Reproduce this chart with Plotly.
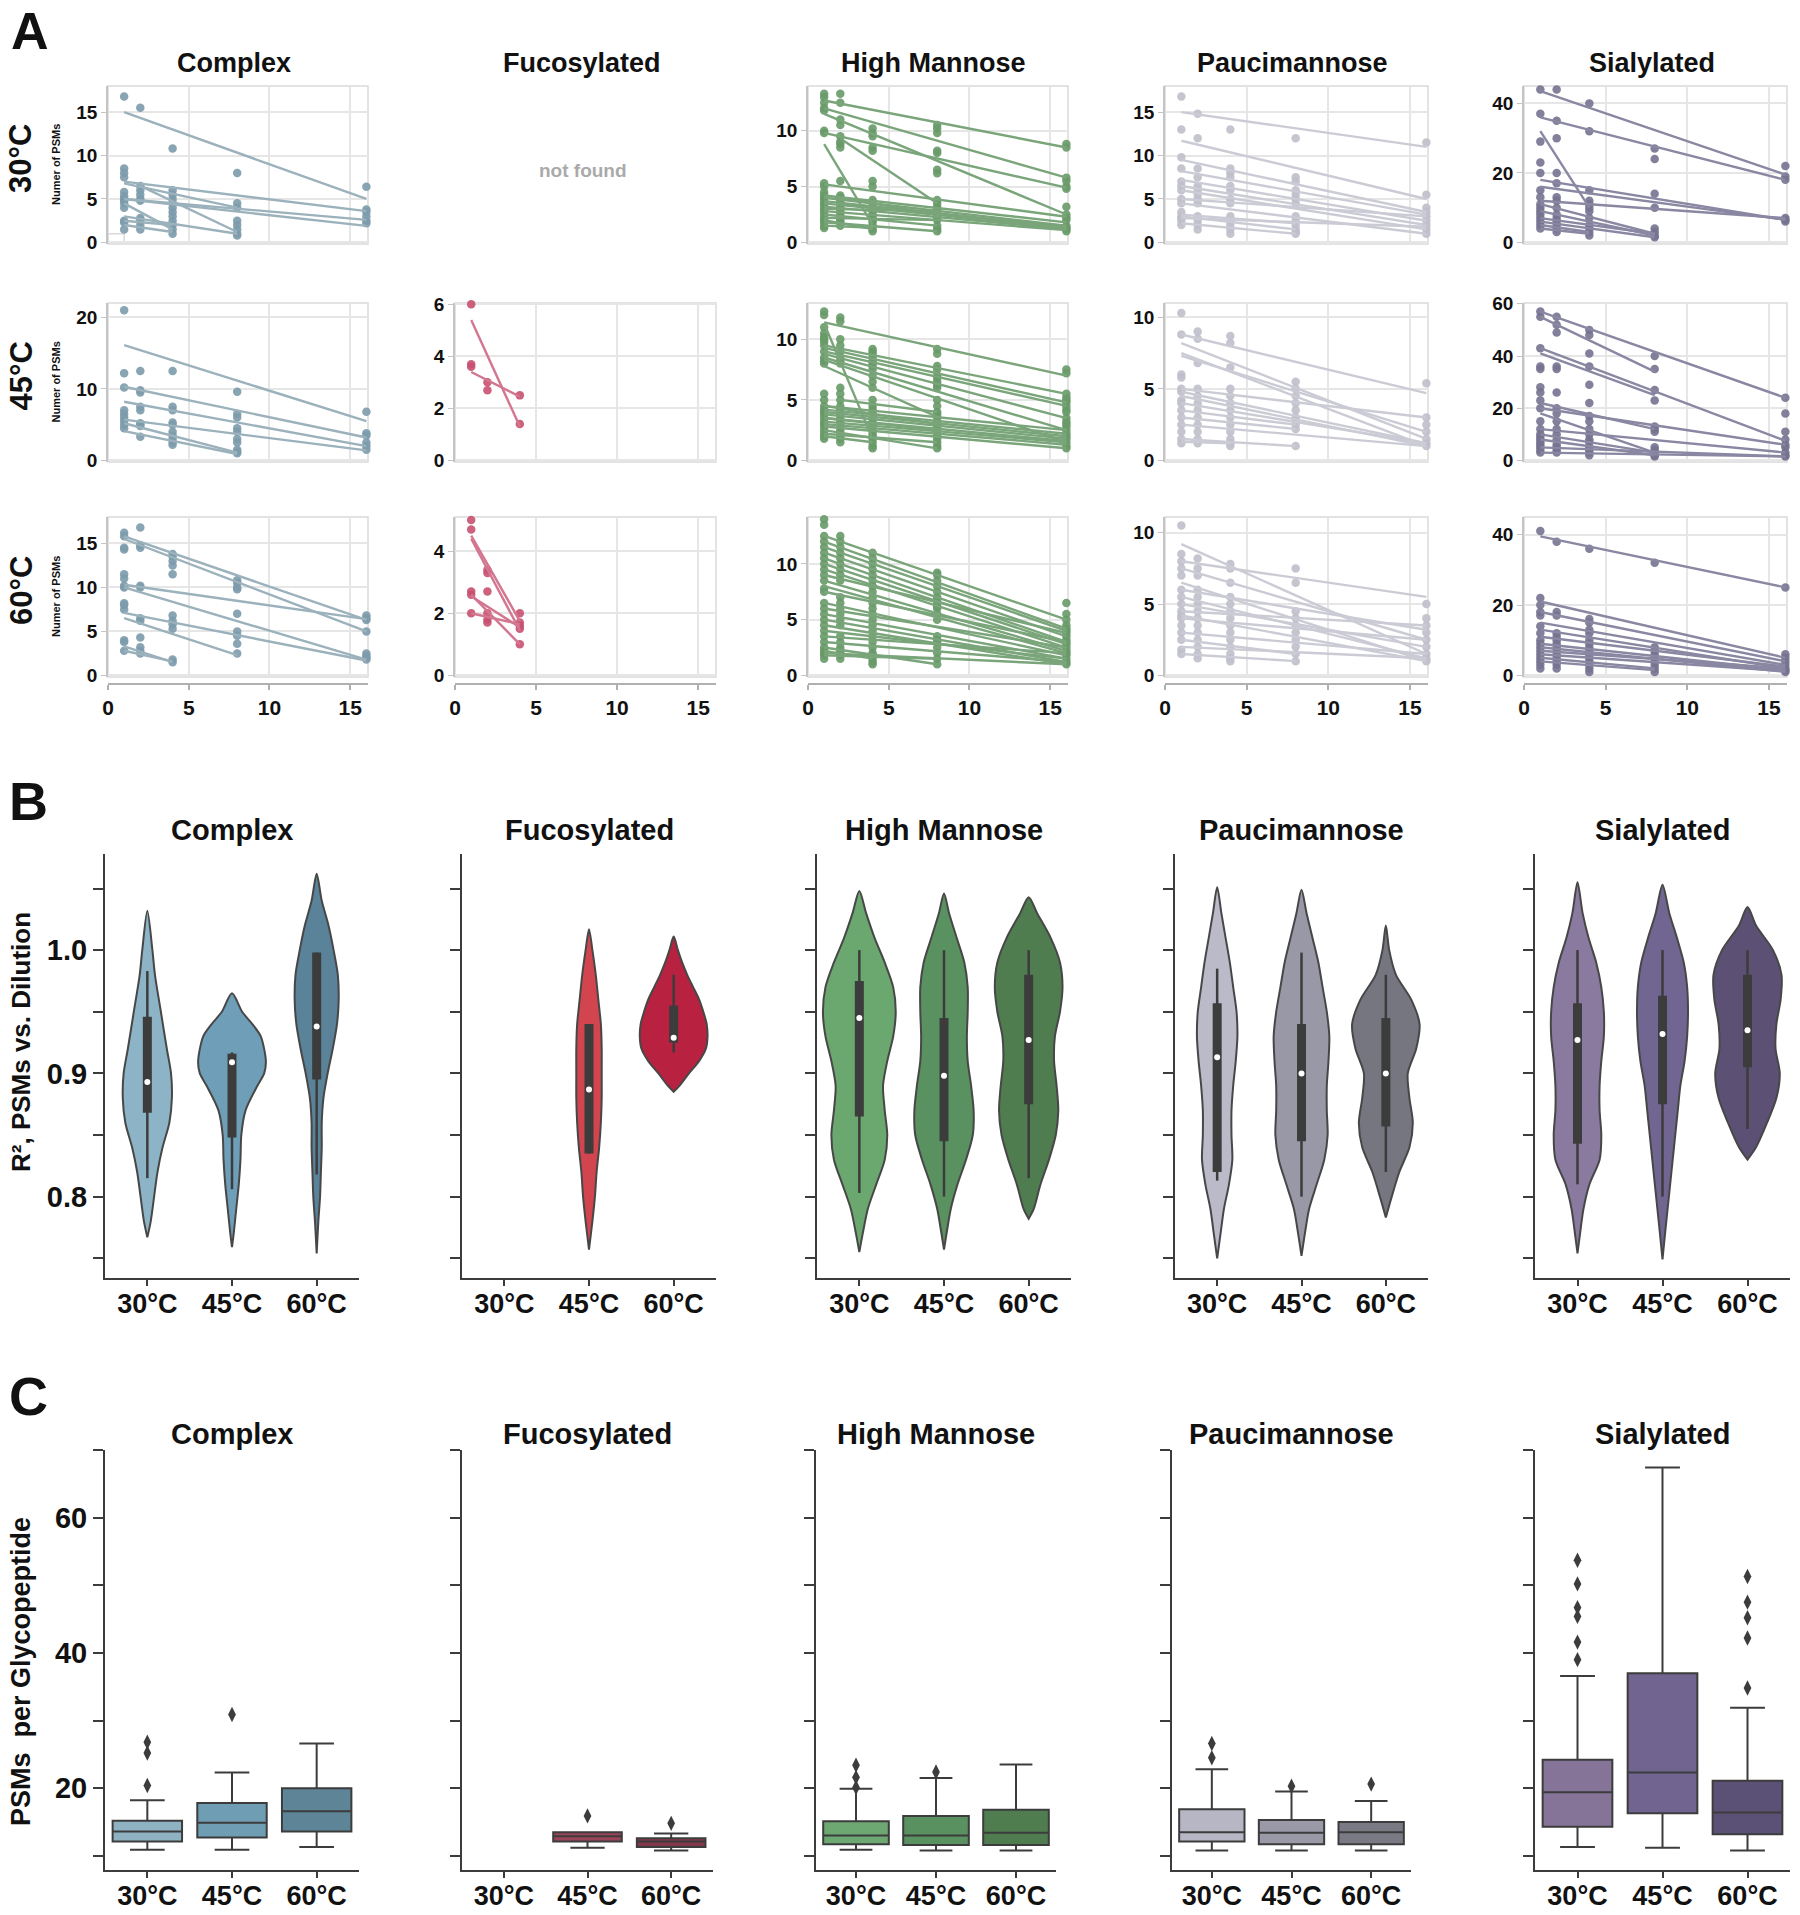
import plotly.graph_objects as go

W, H = 1800, 1915

CATEGORIES = ["Complex", "Fucosylated", "High Mannose", "Paucimannose", "Sialylated"]
TEMPS = ["30°C", "45°C", "60°C"]

# ---------------- panel A: PSMs per dilution (dots) and fitted lines (x0, y0, x1, y1)
complex_30_dots = {1: [16.8, 8.5, 8.0, 7.5, 5.8, 5.3, 5.0, 4.8, 4.5, 4.0, 2.5, 2.3, 1.5],
                   2: [15.5, 6.5, 6.0, 5.5, 5.0, 4.8, 2.8, 2.5, 2.0, 1.5],
                   4: [10.8, 6.0, 5.5, 5.0, 4.5, 4.0, 3.5, 3.0, 2.5, 2.0, 1.5, 1.0],
                   8: [8.0, 4.5, 4.0, 2.5, 2.0, 1.5, 1.0, 0.8],
                   16: [6.4, 3.8, 3.5, 3.0, 2.5, 2.2]}
complex_30_fits = [(1, 15.0, 16, 5.0), (1, 7.0, 16, 3.6), (1, 5.0, 16, 2.6), (1, 5.0, 16, 1.9),
                   (2, 6.5, 8, 1.2), (1, 6.8, 8, 4.0), (1, 4.5, 4, 1.5), (1, 3.0, 8, 1.0),
                   (1, 2.5, 4, 2.0), (1, 2.0, 4, 1.2)]

complex_45_dots = {1: [21.0, 12.2, 10.2, 7.0, 6.5, 6.0, 5.5, 5.0, 4.5],
                   2: [12.5, 9.8, 9.5, 7.5, 7.0, 5.2, 5.0, 4.8, 3.3],
                   4: [12.5, 7.5, 7.0, 5.3, 5.0, 4.0, 3.5, 3.0, 2.5, 2.2],
                   8: [9.6, 6.5, 6.0, 4.5, 4.0, 3.0, 2.5, 1.5, 1.2, 1.0],
                   16: [6.8, 3.8, 3.5, 2.5, 2.0, 1.5]}
complex_45_fits = [(1, 16.1, 16, 5.5), (1, 10.3, 16, 3.2), (1, 8.2, 16, 2.0), (1, 5.7, 16, 1.4),
                   (1, 5.2, 8, 1.1), (1, 4.1, 8, 0.9)]

complex_60_dots = {1: [16.2, 15.8, 14.5, 14.3, 11.5, 11.0, 10.2, 10.0, 8.2, 8.0, 7.5, 4.0, 3.8, 2.8],
                   2: [16.8, 14.8, 14.5, 10.2, 10.0, 6.5, 6.2, 4.3, 3.2, 2.8, 2.5],
                   4: [13.8, 13.5, 13.0, 12.5, 11.5, 6.8, 6.2, 5.8, 5.3, 1.8, 1.5],
                   8: [10.8, 10.5, 10.0, 9.8, 7.0, 5.0, 4.5, 3.6, 2.5],
                   16: [6.8, 6.5, 6.3, 5.0, 2.5, 2.2, 2.0, 1.8]}
complex_60_fits = [(1, 15.8, 16, 6.3), (1, 15.5, 16, 5.0), (1, 10.3, 16, 6.4), (1, 10.0, 16, 1.8),
                   (1, 7.1, 16, 1.7), (1, 6.5, 8, 2.3), (1, 3.3, 4, 1.5), (1, 2.8, 4, 1.6)]

fuco_45_dots = {1: [6.0, 3.7, 3.6], 2: [3.0, 2.7], 4: [2.5, 1.4]}
fuco_45_fits = [(1, 5.4, 4, 1.3), (1, 3.4, 4, 2.45)]

fuco_60_dots = {1: [5.0, 4.7, 2.7, 2.6, 2.0], 2: [3.4, 3.3, 2.7, 2.0, 1.8, 1.7],
                4: [2.0, 1.7, 1.6, 1.5, 1.0]}
fuco_60_fits = [(1, 4.5, 4, 1.75), (1, 4.4, 4, 1.45), (1, 2.6, 4, 1.0), (1, 2.55, 4, 1.55),
                (1, 2.0, 4, 1.65)]

hm_30_dots = {1: [13.3, 13.0, 12.5, 12.0, 11.8, 10.0, 9.8, 5.3, 5.0, 4.5, 4.2, 4.0, 3.8, 3.5,
                  3.3, 3.0, 2.8, 2.5, 2.2, 2.0, 1.8, 1.5, 1.3],
              2: [13.3, 12.5, 11.0, 10.5, 9.5, 9.0, 8.8, 8.5, 5.5, 4.2, 4.0, 3.8, 3.5, 3.2, 3.0,
                  2.8, 2.5, 2.2, 2.0, 1.8, 1.5],
              4: [10.2, 9.8, 9.5, 8.5, 8.2, 5.5, 5.0, 3.8, 3.5, 3.2, 3.0, 2.8, 2.5, 2.2, 2.0,
                  1.8, 1.5, 1.2, 1.0],
              8: [10.5, 10.2, 9.8, 8.2, 8.0, 6.5, 6.2, 3.8, 3.5, 3.2, 3.0, 2.8, 2.5, 2.2, 2.0,
                  1.5, 1.2, 1.0],
              16: [8.8, 8.5, 5.8, 5.5, 5.0, 4.8, 3.2, 2.5, 2.2, 2.0, 1.5, 1.3, 1.2, 1.0]}
hm_30_fits = [(1, 12.7, 16, 8.5), (1, 12.0, 16, 5.8), (1, 11.5, 16, 2.5), (1, 9.8, 16, 4.9),
              (1, 8.8, 4, 1.6), (2, 9.3, 8, 3.5), (1, 5.2, 16, 2.3), (1, 4.2, 16, 1.8),
              (1, 4.0, 16, 1.5), (1, 3.7, 16, 1.4), (1, 3.5, 16, 1.3), (1, 3.2, 16, 1.2),
              (1, 3.0, 8, 2.8), (1, 2.8, 16, 1.1), (1, 2.5, 8, 1.5), (1, 2.2, 8, 2.0),
              (1, 2.0, 4, 1.2), (1, 1.8, 8, 1.0), (1, 1.5, 4, 1.3), (2, 4.0, 8, 2.5),
              (2, 3.5, 16, 1.3)]

hm_45_dots = {1: [12.3, 12.0, 11.0, 10.5, 10.2, 10.0, 9.8, 9.5, 9.0, 8.5, 8.2, 8.0, 5.5, 5.0,
                  4.5, 4.2, 4.0, 3.8, 3.5, 3.2, 3.0, 2.8, 2.5, 2.2, 2.0, 1.8],
              2: [11.8, 11.5, 10.0, 9.5, 9.0, 8.5, 8.2, 8.0, 6.0, 5.5, 5.0, 4.5, 4.2, 4.0, 3.8,
                  3.5, 3.2, 3.0, 2.8, 2.5, 2.2, 2.0, 1.8, 1.5],
              4: [9.2, 9.0, 8.8, 8.5, 8.2, 8.0, 7.8, 7.5, 7.0, 6.5, 6.0, 5.0, 4.5, 4.2, 4.0,
                  3.5, 3.2, 3.0, 2.8, 2.5, 2.2, 2.0, 1.8, 1.5, 1.2, 1.0],
              8: [9.2, 8.8, 7.8, 7.5, 7.0, 6.8, 6.5, 6.2, 6.0, 5.0, 4.5, 4.0, 3.8, 3.5, 3.2,
                  3.0, 2.8, 2.5, 2.2, 2.0, 1.8, 1.5, 1.2, 1.0],
              16: [7.5, 7.2, 5.5, 5.2, 5.0, 4.8, 4.5, 4.2, 4.0, 3.5, 3.2, 3.0, 2.8, 2.5, 2.2,
                   2.0, 1.8, 1.5, 1.2, 1.0]}
hm_45_fits = [(1, 11.4, 16, 7.0), (1, 11.3, 4, 1.8), (1, 9.5, 16, 5.5), (1, 9.3, 16, 4.8),
              (1, 9.0, 16, 4.5), (1, 8.8, 16, 3.5), (1, 8.5, 16, 2.5), (1, 8.3, 16, 1.5),
              (1, 7.8, 8, 3.6), (1, 4.5, 16, 2.5), (1, 4.2, 16, 2.2), (1, 4.0, 16, 2.0),
              (1, 3.8, 16, 1.8), (1, 3.5, 16, 1.6), (1, 3.2, 16, 1.5), (1, 3.0, 16, 1.3),
              (1, 2.8, 16, 1.0), (1, 2.5, 8, 1.0), (1, 2.2, 8, 1.5), (1, 2.0, 4, 1.5),
              (1, 4.5, 8, 3.0), (1, 3.5, 8, 2.5), (2, 5.0, 8, 4.0)]

hm_60_dots = {1: [14.0, 13.5, 12.5, 12.0, 11.5, 11.0, 10.5, 10.0, 9.5, 9.0, 8.5, 7.8, 7.5, 6.5,
                  6.0, 5.5, 5.0, 4.5, 4.0, 3.5, 3.0, 2.5, 2.2, 2.0, 1.8, 1.5],
              2: [12.5, 12.0, 11.5, 11.0, 10.5, 10.0, 9.5, 9.0, 8.5, 7.0, 6.5, 6.0, 5.5, 5.0,
                  4.5, 3.5, 3.0, 2.5, 2.2, 2.0, 1.8, 1.5],
              4: [11.0, 10.5, 10.0, 9.5, 9.0, 8.5, 8.0, 7.5, 7.0, 6.5, 6.0, 5.5, 5.0, 4.5,
                  4.0, 3.5, 3.0, 2.5, 2.0, 1.8, 1.5, 1.2, 1.0],
              8: [9.2, 9.0, 8.5, 8.0, 7.5, 7.0, 6.8, 6.5, 6.2, 6.0, 5.5, 5.0, 3.5, 3.2, 3.0,
                  2.5, 2.0, 1.5, 1.0],
              16: [6.5, 5.5, 5.0, 4.5, 4.2, 4.0, 3.8, 3.5, 3.2, 3.0, 2.8, 2.5, 2.2, 2.0, 1.8,
                   1.5, 1.2, 1.0]}
hm_60_fits = [(1, 12.5, 16, 5.0), (1, 12.0, 16, 4.2), (1, 11.5, 16, 4.0), (1, 11.0, 16, 3.5),
              (1, 10.5, 16, 3.0), (1, 10.0, 16, 2.8), (1, 9.5, 16, 2.5), (1, 9.0, 16, 3.8),
              (1, 8.5, 16, 2.2), (1, 8.0, 16, 2.0), (1, 7.5, 16, 3.0), (1, 6.5, 16, 1.8),
              (1, 6.0, 16, 2.5), (1, 5.5, 16, 1.5), (1, 5.0, 16, 1.2), (1, 4.5, 16, 1.0),
              (1, 4.0, 16, 1.5), (1, 3.5, 16, 2.0), (1, 3.0, 16, 1.2), (1, 2.5, 8, 1.0),
              (1, 2.2, 4, 1.5), (1, 2.0, 16, 1.0), (1, 1.8, 8, 1.5)]

pauci_30_dots = {1: [16.8, 13.0, 9.8, 8.5, 7.0, 6.5, 6.0, 5.0, 4.5, 3.5, 3.0, 2.8, 2.5, 2.0],
                 2: [14.8, 12.0, 8.5, 7.5, 6.5, 6.0, 5.5, 5.0, 4.5, 3.0, 2.5, 2.0, 1.5],
                 4: [13.0, 8.5, 8.0, 7.5, 6.5, 6.0, 5.0, 4.5, 3.0, 2.5, 2.0, 1.5, 1.0],
                 8: [12.0, 7.5, 7.0, 6.0, 5.5, 5.0, 4.5, 3.0, 2.5, 2.0, 1.5, 1.2, 1.0],
                 16: [11.5, 5.5, 4.0, 3.5, 3.0, 2.5, 2.0, 1.5, 1.0]}
pauci_30_fits = [(1, 15.0, 16, 11.0), (1, 11.7, 16, 5.0), (1, 9.5, 16, 3.5), (1, 8.2, 16, 3.2),
                 (1, 7.2, 16, 2.5), (1, 6.5, 16, 2.0), (1, 6.0, 16, 1.5), (1, 5.0, 16, 3.0),
                 (1, 4.5, 16, 1.0), (1, 3.2, 8, 2.2), (1, 3.0, 8, 1.5), (1, 2.8, 16, 1.8),
                 (1, 2.2, 8, 1.0)]

pauci_45_dots = {1: [10.3, 8.8, 6.0, 5.8, 5.0, 4.8, 4.2, 4.0, 3.5, 3.0, 2.5, 2.0, 1.5, 1.2],
                 2: [9.0, 8.5, 6.8, 5.0, 4.5, 4.0, 3.5, 3.0, 2.5, 2.0, 1.5, 1.2],
                 4: [8.7, 8.2, 6.5, 5.0, 4.5, 4.0, 3.5, 3.0, 2.5, 2.0, 1.5, 1.2, 1.0],
                 8: [5.5, 5.0, 4.5, 4.0, 3.5, 3.0, 2.8, 2.5, 2.2, 1.0],
                 16: [5.4, 3.0, 2.5, 2.0, 1.5, 1.2, 1.0]}
pauci_45_fits = [(1, 8.8, 16, 4.7), (1, 8.2, 16, 1.5), (1, 7.5, 16, 1.0), (1, 7.3, 16, 2.0),
                 (1, 5.0, 16, 3.0), (1, 4.8, 16, 1.2), (1, 4.5, 16, 1.0), (1, 4.0, 16, 1.2),
                 (1, 3.5, 8, 2.5), (1, 3.0, 8, 2.2), (1, 2.5, 16, 1.0), (1, 1.5, 8, 1.0),
                 (1, 1.3, 4, 1.2)]

pauci_60_dots = {1: [10.5, 8.5, 8.0, 7.5, 7.0, 6.0, 5.5, 5.0, 4.5, 4.2, 4.0, 3.5, 3.0, 2.5,
                     1.8, 1.5],
                 2: [8.2, 7.5, 7.0, 6.0, 5.5, 5.0, 4.5, 4.0, 3.5, 3.0, 2.5, 2.0, 1.5, 1.2],
                 4: [7.8, 7.5, 6.5, 5.5, 5.0, 4.5, 4.0, 3.5, 3.0, 2.5, 2.0, 1.5, 1.2, 1.0],
                 8: [7.5, 6.5, 4.5, 4.0, 3.5, 3.0, 2.5, 2.0, 1.5, 1.0],
                 16: [5.0, 4.0, 3.5, 3.0, 2.5, 2.0, 1.5, 1.2, 1.0]}
pauci_60_fits = [(1, 9.2, 16, 1.5), (1, 8.0, 16, 5.5), (1, 7.5, 16, 2.5), (1, 6.5, 16, 1.0),
                 (1, 6.0, 16, 3.2), (1, 5.5, 16, 1.2), (1, 5.0, 16, 2.0), (1, 4.5, 16, 3.5),
                 (1, 4.2, 16, 1.0), (1, 4.0, 16, 2.5), (1, 3.0, 16, 1.5), (1, 2.5, 8, 1.5),
                 (1, 2.0, 16, 1.2), (1, 1.5, 8, 1.0)]

sial_30_dots = {1: [44, 37, 29, 23, 20, 15, 13, 11, 10, 9, 8, 7, 6, 5, 4],
                2: [44, 35, 30, 20, 17, 13, 12, 10, 8, 7, 6, 5, 4, 3],
                4: [40, 32, 15, 12, 11, 10, 9, 7, 5, 4, 3, 2],
                8: [27, 24, 14, 10, 4, 3, 2, 1.5],
                16: [22, 19, 18, 7, 6.5, 6]}
sial_30_fits = [(1, 43.5, 16, 19.5), (1, 36, 16, 18), (1, 32, 4, 10), (1, 18, 16, 6.5),
                (1, 16, 16, 6.5), (1, 12, 16, 7), (1, 11, 8, 2.5), (1, 9, 8, 2),
                (1, 7, 8, 2.5), (1, 6, 8, 1.5), (1, 5, 4, 3), (1, 4, 4, 2.5)]

sial_45_dots = {1: [57, 55, 43, 36, 35, 28, 26, 23, 20, 15, 12, 10, 9, 8, 7, 6, 5, 4, 3],
                2: [55, 52, 49, 36, 35, 26, 20, 18, 15, 12, 10, 8, 6, 5, 4, 3],
                4: [50, 48, 41, 36, 29, 22, 17, 15, 12, 10, 8, 7, 5, 4, 3, 2],
                8: [40, 35, 27, 23, 13, 12, 11, 5, 4, 3, 2, 1.5],
                16: [24, 18, 11, 8, 6, 5, 3, 2, 1.5]}
sial_45_fits = [(1, 57, 16, 24), (1, 55, 8, 34), (1, 43, 16, 7.5), (1, 41, 8, 25),
                (1, 22, 8, 12), (1, 20, 16, 6), (1, 18, 8, 3), (1, 12, 16, 3),
                (1, 10, 8, 3), (1, 8, 8, 2), (1, 5, 16, 1.5), (1, 3, 16, 1.5)]

sial_60_dots = {1: [41, 22, 20, 18, 17, 14, 12, 10, 9, 8, 7, 6, 5, 4, 3, 2],
                2: [38, 18, 17, 12, 11, 10, 9, 8, 7, 6, 5, 4, 3, 2],
                4: [36, 16, 15, 13, 12, 10, 9, 8, 7, 6, 5, 4, 3, 2, 1],
                8: [32, 8, 7, 6, 5, 4, 3, 2, 1],
                16: [25, 6, 5, 4, 3, 2, 1.5, 1]}
sial_60_fits = [(1, 39.5, 16, 25), (1, 21, 16, 5), (1, 18, 16, 4), (1, 15, 16, 3),
                (1, 13, 16, 2), (1, 11, 16, 2.5), (1, 9, 16, 1.5), (1, 8, 16, 1),
                (1, 7, 16, 2), (1, 6, 16, 1.2), (1, 5, 8, 2), (1, 4, 8, 1.5)]

A_DATA = {
    ("Complex", "30°C"): (complex_30_dots, complex_30_fits),
    ("Complex", "45°C"): (complex_45_dots, complex_45_fits),
    ("Complex", "60°C"): (complex_60_dots, complex_60_fits),
    ("Fucosylated", "45°C"): (fuco_45_dots, fuco_45_fits),
    ("Fucosylated", "60°C"): (fuco_60_dots, fuco_60_fits),
    ("High Mannose", "30°C"): (hm_30_dots, hm_30_fits),
    ("High Mannose", "45°C"): (hm_45_dots, hm_45_fits),
    ("High Mannose", "60°C"): (hm_60_dots, hm_60_fits),
    ("Paucimannose", "30°C"): (pauci_30_dots, pauci_30_fits),
    ("Paucimannose", "45°C"): (pauci_45_dots, pauci_45_fits),
    ("Paucimannose", "60°C"): (pauci_60_dots, pauci_60_fits),
    ("Sialylated", "30°C"): (sial_30_dots, sial_30_fits),
    ("Sialylated", "45°C"): (sial_45_dots, sial_45_fits),
    ("Sialylated", "60°C"): (sial_60_dots, sial_60_fits),
}

# y-axis top and tick step for each panel A subplot
A_YAXIS = {
    ("Complex", "30°C"): (18, 5), ("Complex", "45°C"): (22, 10), ("Complex", "60°C"): (18, 5),
    ("Fucosylated", "45°C"): (6.05, 2), ("Fucosylated", "60°C"): (5.1, 2),
    ("High Mannose", "30°C"): (14, 5), ("High Mannose", "45°C"): (13, 5),
    ("High Mannose", "60°C"): (14.2, 5),
    ("Paucimannose", "30°C"): (18, 5), ("Paucimannose", "45°C"): (11, 5),
    ("Paucimannose", "60°C"): (11.1, 5),
    ("Sialylated", "30°C"): (45, 20), ("Sialylated", "45°C"): (60.3, 20),
    ("Sialylated", "60°C"): (45, 20),
}

# ---------------- panel B: violin outlines (levels, half widths) and inner box (lo, q1, med, q3, hi)
complex_violin = {
    "30°C": ([1.032, 1.00, 0.98, 0.95, 0.92, 0.90, 0.88, 0.86, 0.84, 0.82, 0.80, 0.78, 0.767],
             [0, 0.06, 0.09, 0.16, 0.23, 0.28, 0.29, 0.26, 0.18, 0.12, 0.08, 0.04, 0]),
    "45°C": ([0.965, 0.95, 0.94, 0.93, 0.91, 0.90, 0.89, 0.87, 0.85, 0.83, 0.81, 0.79, 0.77, 0.759],
             [0, 0.12, 0.24, 0.34, 0.40, 0.38, 0.30, 0.16, 0.11, 0.10, 0.08, 0.05, 0.02, 0]),
    "60°C": ([1.062, 1.04, 1.02, 1.00, 0.98, 0.96, 0.94, 0.92, 0.90, 0.88, 0.86, 0.84, 0.82,
              0.80, 0.78, 0.754],
             [0, 0.06, 0.14, 0.20, 0.25, 0.26, 0.24, 0.19, 0.13, 0.08, 0.06, 0.06, 0.05, 0.04,
              0.02, 0]),
}
complex_violin_box = {"30°C": (0.815, 0.868, 0.893, 0.946, 0.983),
                      "45°C": (0.806, 0.848, 0.909, 0.916, 0.917),
                      "60°C": (0.818, 0.895, 0.938, 0.998, 0.998)}

fuco_violin = {
    "45°C": ([1.017, 1.00, 0.98, 0.96, 0.94, 0.92, 0.90, 0.88, 0.86, 0.84, 0.82, 0.80, 0.78, 0.757],
             [0, 0.04, 0.08, 0.11, 0.14, 0.15, 0.15, 0.15, 0.14, 0.12, 0.09, 0.07, 0.04, 0]),
    "60°C": ([1.011, 1.00, 0.99, 0.98, 0.97, 0.96, 0.95, 0.94, 0.93, 0.92, 0.91, 0.90, 0.89, 0.885],
             [0, 0.05, 0.10, 0.16, 0.23, 0.30, 0.35, 0.39, 0.40, 0.38, 0.30, 0.18, 0.07, 0]),
}
fuco_violin_box = {"45°C": (0.835, 0.835, 0.887, 0.940, 0.940),
                   "60°C": (0.917, 0.925, 0.929, 0.955, 0.980)}

hm_violin = {
    "30°C": ([1.048, 1.03, 1.01, 0.99, 0.97, 0.95, 0.93, 0.91, 0.89, 0.87, 0.85, 0.83, 0.81,
              0.79, 0.77, 0.755],
             [0, 0.08, 0.18, 0.30, 0.40, 0.43, 0.40, 0.33, 0.28, 0.30, 0.33, 0.30, 0.20, 0.10,
              0.04, 0]),
    "45°C": ([1.046, 1.03, 1.01, 0.99, 0.97, 0.95, 0.93, 0.91, 0.89, 0.87, 0.85, 0.83, 0.81,
              0.79, 0.77, 0.757],
             [0, 0.06, 0.15, 0.24, 0.28, 0.28, 0.27, 0.28, 0.32, 0.35, 0.34, 0.26, 0.16, 0.08,
              0.03, 0]),
    "60°C": ([1.043, 1.03, 1.01, 0.99, 0.97, 0.95, 0.93, 0.91, 0.89, 0.87, 0.85, 0.83, 0.81,
              0.79, 0.782],
             [0, 0.10, 0.26, 0.37, 0.40, 0.37, 0.31, 0.30, 0.33, 0.35, 0.32, 0.24, 0.14, 0.06, 0]),
}
hm_violin_box = {"30°C": (0.803, 0.865, 0.945, 0.975, 1.0),
                 "45°C": (0.80, 0.845, 0.898, 0.945, 1.0),
                 "60°C": (0.815, 0.875, 0.927, 0.980, 1.0)}

pauci_violin = {
    "30°C": ([1.051, 1.03, 1.01, 0.99, 0.97, 0.95, 0.93, 0.91, 0.89, 0.87, 0.85, 0.83, 0.81,
              0.79, 0.77, 0.750],
             [0, 0.05, 0.10, 0.15, 0.19, 0.23, 0.24, 0.22, 0.19, 0.17, 0.17, 0.18, 0.14, 0.08,
              0.04, 0]),
    "45°C": ([1.049, 1.03, 1.01, 0.99, 0.97, 0.95, 0.93, 0.91, 0.89, 0.87, 0.85, 0.83, 0.81,
              0.79, 0.77, 0.752],
             [0, 0.06, 0.13, 0.20, 0.25, 0.30, 0.33, 0.32, 0.30, 0.30, 0.31, 0.27, 0.18, 0.09,
              0.04, 0]),
    "60°C": ([1.020, 1.00, 0.98, 0.96, 0.94, 0.92, 0.90, 0.88, 0.86, 0.84, 0.82, 0.80, 0.783],
             [0, 0.04, 0.12, 0.30, 0.40, 0.36, 0.26, 0.28, 0.32, 0.28, 0.16, 0.07, 0]),
}
pauci_violin_box = {"30°C": (0.813, 0.820, 0.913, 0.957, 0.985),
                    "45°C": (0.800, 0.845, 0.900, 0.940, 0.998),
                    "60°C": (0.820, 0.857, 0.900, 0.945, 0.980)}

sial_violin = {
    "30°C": ([1.055, 1.03, 1.01, 0.99, 0.97, 0.95, 0.93, 0.91, 0.89, 0.87, 0.85, 0.83, 0.81,
              0.79, 0.77, 0.754],
             [0, 0.06, 0.13, 0.22, 0.28, 0.31, 0.31, 0.28, 0.26, 0.26, 0.28, 0.26, 0.14, 0.07,
              0.03, 0]),
    "45°C": ([1.053, 1.03, 1.01, 0.99, 0.97, 0.95, 0.93, 0.91, 0.89, 0.87, 0.85, 0.83, 0.81,
              0.79, 0.77, 0.749],
             [0, 0.08, 0.17, 0.25, 0.29, 0.30, 0.29, 0.26, 0.21, 0.18, 0.15, 0.12, 0.09, 0.06,
              0.03, 0]),
    "60°C": ([1.035, 1.02, 1.00, 0.98, 0.96, 0.94, 0.92, 0.90, 0.88, 0.86, 0.84, 0.830],
             [0, 0.10, 0.30, 0.40, 0.39, 0.34, 0.33, 0.38, 0.34, 0.23, 0.10, 0]),
}
sial_violin_box = {"30°C": (0.810, 0.843, 0.927, 0.957, 1.0),
                   "45°C": (0.800, 0.875, 0.932, 0.963, 1.0),
                   "60°C": (0.855, 0.905, 0.935, 0.980, 1.0)}

B_DATA = {"Complex": (complex_violin, complex_violin_box),
          "Fucosylated": (fuco_violin, fuco_violin_box),
          "High Mannose": (hm_violin, hm_violin_box),
          "Paucimannose": (pauci_violin, pauci_violin_box),
          "Sialylated": (sial_violin, sial_violin_box)}

# ---------------- panel C: box stats (lower whisker, q1, median, q3, upper whisker) and outliers
complex_box = {"30°C": (10.9, 12.1, 13.6, 15.2, 18.2), "45°C": (10.9, 12.7, 14.9, 17.8, 22.3),
               "60°C": (11.3, 13.6, 16.6, 20.0, 26.6)}
complex_outliers = {"30°C": [26.8, 25.2, 20.4], "45°C": [30.9], "60°C": []}

fuco_box = {"45°C": (11.2, 12.1, 12.9, 13.5, 13.5), "60°C": (10.8, 11.3, 12.1, 12.6, 13.3)}
fuco_outliers = {"45°C": [15.9], "60°C": [14.8]}

hm_box = {"30°C": (10.9, 11.7, 13.0, 15.1, 19.9), "45°C": (10.8, 11.6, 13.0, 15.9, 21.5),
          "60°C": (10.8, 11.6, 13.4, 16.8, 23.5)}
hm_outliers = {"30°C": [20.1, 21.6, 23.4], "45°C": [22.4], "60°C": []}

pauci_box = {"30°C": (10.8, 12.1, 13.5, 16.9, 22.8), "45°C": (10.8, 11.7, 13.4, 15.3, 19.5),
             "60°C": (10.8, 11.7, 13.5, 15.0, 18.1)}
pauci_outliers = {"30°C": [24.5, 26.6], "45°C": [20.3], "60°C": [20.6]}

sial_box = {"30°C": (11.3, 14.3, 19.4, 24.2, 36.6), "45°C": (11.2, 16.3, 22.3, 37.0, 67.4),
            "60°C": (10.8, 13.2, 16.4, 21.1, 31.9)}
sial_outliers = {"30°C": [39.0, 41.6, 45.4, 46.7, 50.2, 53.7], "45°C": [],
                 "60°C": [34.8, 42.2, 45.2, 47.5, 51.3]}

C_DATA = {"Complex": (complex_box, complex_outliers), "Fucosylated": (fuco_box, fuco_outliers),
          "High Mannose": (hm_box, hm_outliers), "Paucimannose": (pauci_box, pauci_outliers),
          "Sialylated": (sial_box, sial_outliers)}

# ---------------- colours
A_DOT = {"Complex": "#7c9bab", "Fucosylated": "#c9506f", "High Mannose": "#689a68",
         "Paucimannose": "#bfbfcb", "Sialylated": "#74728f"}
A_LINE = {"Complex": "#9bb1bc", "Fucosylated": "#d37690", "High Mannose": "#7aa57a",
          "Paucimannose": "#cbcbd5", "Sialylated": "#8987a2"}
B_FILL = {"Complex": ["#8db4c6", "#6f9fb8", "#5a8299"],
          "Fucosylated": ["#d2454f", "#d2454f", "#b8213f"],
          "High Mannose": ["#6aa86f", "#5a9160", "#4f7d50"],
          "Paucimannose": ["#bbbac9", "#9998a7", "#75767f"],
          "Sialylated": ["#8a7aa0", "#716691", "#5c5175"]}
C_FILL = {"Complex": ["#8fb2c2", "#6f9db4", "#5d8597"],
          "Fucosylated": ["#9b4459", "#9b4459", "#843749"],
          "High Mannose": ["#6da872", "#5a9160", "#4f7d50"],
          "Paucimannose": ["#b7b6c5", "#9a99a8", "#797a84"],
          "Sialylated": ["#857498", "#716490", "#5b5075"]}

FONT = "Liberation Sans, Arial"
DARK = "#3c3c3c"
GRID = "#e6e6e6"

# pixel layout of the subplots
A_COLS = [(108, 368), (455, 716), (808, 1068), (1165, 1428), (1524, 1787)]
A_ROWS = [(86, 244), (303, 462), (517, 677)]
B_COLS = [(105, 359), (462, 716), (817, 1071), (1175, 1428), (1535, 1790)]
B_ROW = (854, 1278)
C_COLS = [(105, 359), (462, 713), (816, 1056), (1172, 1411), (1535, 1790)]
C_ROW = (1450, 1870)


def fx(p):
    return p / W


def fy(p):
    return 1 - p / H


fig = go.Figure()
n_axes = [0]


def add_axes(xd, yd, xaxis, yaxis):
    n_axes[0] += 1
    s = "" if n_axes[0] == 1 else str(n_axes[0])
    xaxis["domain"] = [fx(xd[0]), fx(xd[1])]
    yaxis["domain"] = [fy(yd[1]), fy(yd[0])]
    xaxis.setdefault("anchor", "y" + s)
    yaxis["anchor"] = "x" + s
    xaxis["automargin"] = False
    yaxis["automargin"] = False
    fig.update_layout({"xaxis" + s: xaxis, "yaxis" + s: yaxis})
    return "x" + s, "y" + s


def text(t, x, y, size, color="#111111", angle=0, yanchor="middle"):
    fig.add_annotation(text=t, x=fx(x), y=fy(y), xref="paper", yref="paper",
                       showarrow=False, textangle=angle, xanchor="center", yanchor=yanchor,
                       font=dict(family=FONT, size=size, color=color, weight="bold"))


# ---------------- panel A
text("A", 30, 0, 52, yanchor="top")
for ri, temp in enumerate(TEMPS):
    yc = (A_ROWS[ri][0] + A_ROWS[ri][1]) / 2
    text(temp, 21, yc - 6, 31, angle=-90)
    text("Numer of PSMs", 56, yc, 11, angle=-90)

for ci, cat in enumerate(CATEGORIES):
    text(cat, (A_COLS[ci][0] + A_COLS[ci][1]) / 2 - 4, 63, 27)
    for ri, temp in enumerate(TEMPS):
        key = (cat, temp)
        bottom = ri == 2
        xa = dict(range=[0, 16.1], tickvals=[0, 5, 10, 15], showgrid=key in A_DATA,
                  gridcolor=GRID, gridwidth=1.5, zeroline=False, showticklabels=bottom,
                  tickfont=dict(family=FONT, size=21, color="#111", weight="bold"))
        if bottom:
            xa.update(anchor="free", position=fy(684), showline=True, linecolor="#b0b0b0",
                      linewidth=2, ticks="outside", ticklen=5, tickwidth=2, tickcolor="#b0b0b0")
        if key in A_DATA:
            top, step = A_YAXIS[key]
            ya = dict(range=[-top * 0.01, top], dtick=step, showgrid=True, gridcolor=GRID,
                      gridwidth=1.5, zeroline=False, showline=True, linecolor="#c4c4c4",
                      linewidth=1.5, ticks="outside", ticklen=5, tickcolor="#c4c4c4",
                      tickfont=dict(family=FONT, size=19, color="#111", weight="bold"))
        else:
            ya = dict(range=[0, 1], showgrid=False, zeroline=False, showticklabels=False)
        xr, yr = add_axes(A_COLS[ci], A_ROWS[ri], xa, ya)
        fig.add_shape(type="rect", xref=xr + " domain", yref=yr + " domain", x0=0, x1=1,
                      y0=0, y1=1, line=dict(color="#dadada", width=1.5), layer="below")
        if key not in A_DATA:
            text("not found", (A_COLS[ci][0] + A_COLS[ci][1]) / 2 - 3,
                 (A_ROWS[ri][0] + A_ROWS[ri][1]) / 2 + 5, 19, color="#aaaaaa")
            continue
        dots, fits = A_DATA[key]
        xs, ys = [], []
        for dil, vals in dots.items():
            xs += [dil] * len(vals)
            ys += vals
        fig.add_trace(go.Scatter(x=xs, y=ys, mode="markers", xaxis=xr, yaxis=yr,
                                 cliponaxis=False,
                                 marker=dict(size=8.5, color=A_DOT[cat], opacity=0.9)))
        lx, ly = [], []
        for x0, y0, x1, y1 in fits:
            lx += [x0, x1, None]
            ly += [y0, y1, None]
        fig.add_trace(go.Scatter(x=lx, y=ly, mode="lines", xaxis=xr, yaxis=yr,
                                 line=dict(color=A_LINE[cat], width=2.4)))


# ---------------- panels B and C shared axis styling
def cat_xaxis():
    return dict(range=[-0.5, 2.5], tickvals=[0, 1, 2], ticktext=TEMPS, showgrid=False,
                zeroline=False, showline=True, linecolor=DARK, linewidth=2, ticks="outside",
                ticklen=6, tickwidth=2, tickcolor=DARK, ticklabelstandoff=-5,
                tickfont=dict(family=FONT, size=27, color="#111", weight="bold"))


def val_yaxis(rng, vals, labels):
    return dict(range=rng, tickvals=vals, ticktext=labels,
                showgrid=False, zeroline=False, showline=True, linecolor=DARK, linewidth=2,
                ticks="outside", ticklen=10, tickwidth=2, tickcolor=DARK,
                tickfont=dict(family=FONT, size=29, color="#111", weight="bold"))


# ---------------- panel B
text("B", 28, 801, 54)
text("R², PSMs vs. Dilution", 21, 1042, 26, angle=-90)
b_ticks = [0.75, 0.80, 0.85, 0.90, 0.95, 1.00, 1.05]
b_labels = ["", "0.8", "", "0.9", "", "1.0", ""]
for ci, cat in enumerate(CATEGORIES):
    text(cat, (B_COLS[ci][0] + B_COLS[ci][1]) / 2, 830, 29)
    ya = val_yaxis([0.734, 1.078], b_ticks, b_labels if ci == 0 else [""] * len(b_ticks))
    xr, yr = add_axes(B_COLS[ci], B_ROW, cat_xaxis(), ya)
    shapes, boxes = B_DATA[cat]
    for ti, temp in enumerate(TEMPS):
        if temp not in shapes:
            continue
        lv, hw = shapes[temp]
        px = [ti + w for w in hw] + [ti - w for w in hw[::-1]]
        py = list(lv) + list(lv[::-1])
        fig.add_trace(go.Scatter(x=px, y=py, mode="lines", fill="toself", xaxis=xr, yaxis=yr,
                                 fillcolor=B_FILL[cat][ti],
                                 line=dict(color="#474747", width=2, shape="spline",
                                           smoothing=0.8)))
        lo, q1, med, q3, hi = boxes[temp]
        fig.add_trace(go.Scatter(x=[ti, ti], y=[lo, hi], mode="lines", xaxis=xr, yaxis=yr,
                                 line=dict(color=DARK, width=2.5)))
        fig.add_trace(go.Scatter(x=[ti, ti], y=[q1, q3], mode="lines", xaxis=xr, yaxis=yr,
                                 line=dict(color=DARK, width=9)))
        fig.add_trace(go.Scatter(x=[ti], y=[med], mode="markers", xaxis=xr, yaxis=yr,
                                 marker=dict(color="white", size=6)))

# ---------------- panel C
text("C", 28, 1396, 54)
text("PSMs  per Glycopeptide", 21, 1672, 27, angle=-90)
c_ticks = [10, 20, 30, 40, 50, 60, 70]
c_labels = ["", "20", "", "40", "", "60", ""]
for ci, cat in enumerate(CATEGORIES):
    text(cat, (C_COLS[ci][0] + C_COLS[ci][1]) / 2, 1434, 29)
    ya = val_yaxis([7.9, 70], c_ticks, c_labels if ci == 0 else [""] * len(c_ticks))
    xr, yr = add_axes(C_COLS[ci], C_ROW, cat_xaxis(), ya)
    stats, outl = C_DATA[cat]
    for ti, temp in enumerate(TEMPS):
        if temp not in stats:
            continue
        lo, q1, med, q3, hi = stats[temp]
        fig.add_trace(go.Box(x=[ti], q1=[q1], median=[med], q3=[q3], lowerfence=[lo],
                             upperfence=[hi], width=0.82, whiskerwidth=0.5, boxpoints=False,
                             fillcolor=C_FILL[cat][ti], line=dict(color=DARK, width=2),
                             xaxis=xr, yaxis=yr))
        if outl[temp]:
            fig.add_trace(go.Scatter(x=[ti] * len(outl[temp]), y=outl[temp], mode="markers",
                                     xaxis=xr, yaxis=yr,
                                     marker=dict(symbol="diamond-tall", size=11, color=DARK)))

fig.update_layout(width=W, height=H, margin=dict(l=0, r=0, t=0, b=0), showlegend=False,
                  plot_bgcolor="rgba(0,0,0,0)", paper_bgcolor="white", boxmode="overlay")
# drop the browser's default 8px body margin so the figure fills the window exactly
fig.write_html("out.html", config={"displayModeBar": False},
               post_script="document.body.style.margin = '0';")
